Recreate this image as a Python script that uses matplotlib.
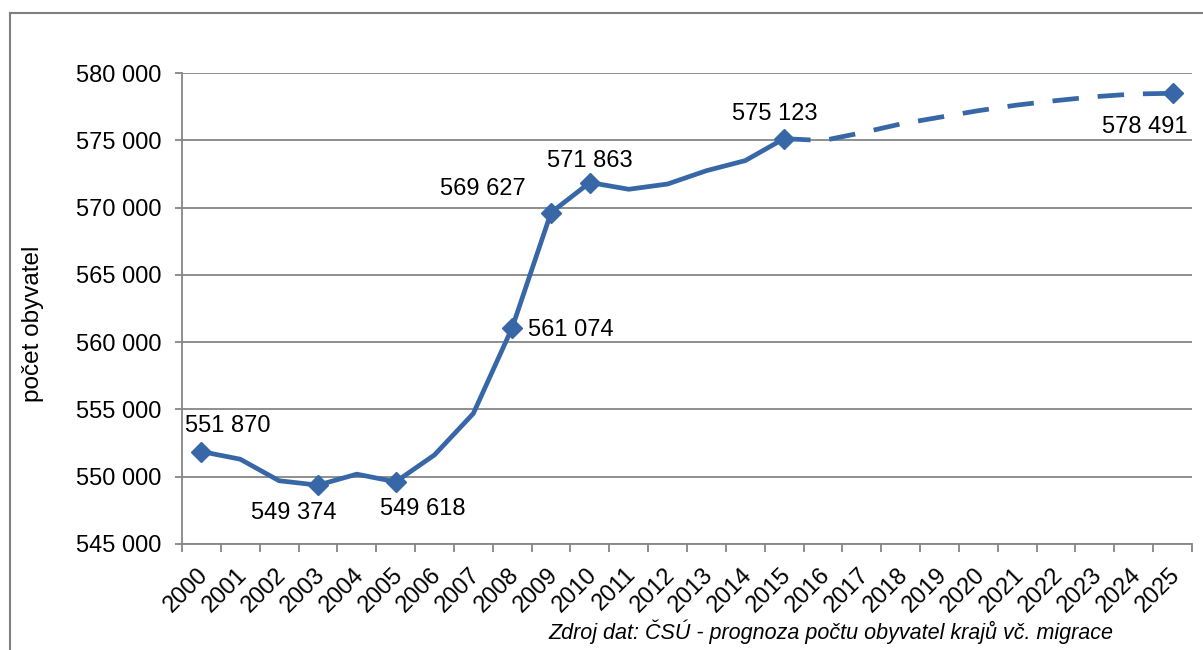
import matplotlib.pyplot as plt
from matplotlib.ticker import FuncFormatter, FixedLocator
from matplotlib.lines import Line2D
from matplotlib.transforms import ScaledTranslation

plt.rcParams['font.family'] = ['Liberation Sans', 'DejaVu Sans']

years = list(range(2000, 2026))
actual_years = list(range(2000, 2016))
actual = [551870, 551300, 549700, 549374, 550190, 549618, 551620, 554700,
          561074, 569627, 571863, 571360, 571750, 572740, 573490, 575123]
proj_years = list(range(2015, 2026))
proj = [575123, 574980, 575560, 576210, 576710, 577200, 577620, 577950,
        578240, 578440, 578491]
labeled_actual = [2000, 2003, 2005, 2008, 2009, 2010, 2015]
labeled_proj = [2025]

clr = "#3767a6"
grid_clr = "#868686"

def fmt(v, pos=None):
    return f"{v:,.0f}".replace(",", " ")

fig = plt.figure(figsize=[12.03, 6.5], dpi=100)
ax = fig.add_axes([182/1203, 1-544/650, 1010/1203, 471/650])

xa = [years.index(y) for y in actual_years]
xp = [years.index(y) for y in proj_years]
ax.plot(xa, actual, "-", color=clr, lw=3.4, solid_joinstyle="round", zorder=3)
ax.plot(xp, proj, "--", color=clr, lw=3.4, dashes=(5.6, 4.0), zorder=3)

mx = [years.index(y) for y in labeled_actual] + [years.index(y) for y in labeled_proj]
my = [actual[actual_years.index(y)] for y in labeled_actual] + \
     [proj[proj_years.index(y)] for y in labeled_proj]
ax.plot(mx, my, "D", color=clr, ms=10.5, zorder=4)

# label offsets in pixels (dx, dy, ha)
offs = {2000: (26, 26, "center"), 2003: (-24, -28, "center"),
        2005: (27, -27, "center"), 2008: (16, -2, "left"),
        2009: (-68, 24, "center"), 2010: (0, 22, "center"),
        2015: (-9, 25, "center"), 2025: (-28, -34, "center")}
for x, y, yr in zip(mx, my, labeled_actual + labeled_proj):
    dx, dy, ha = offs[yr]
    ax.annotate(fmt(y), (x, y), xytext=(dx, dy), textcoords="offset pixels",
                ha=ha, va="center", fontsize=17, color="black")

ax.set_xlim(-0.5, len(years) - 0.5)
ax.set_ylim(545000, 580000)
ax.set_yticks(range(545000, 580001, 5000))
ax.yaxis.set_major_formatter(FuncFormatter(fmt))
ax.grid(True, axis="y", color=grid_clr, lw=1.3)
ax.set_axisbelow(True)

ax.set_xticks(range(len(years)))
ax.set_xticklabels([str(y) for y in years], rotation=45, ha="right",
                   va="top", rotation_mode="anchor")
ax.xaxis.set_minor_locator(FixedLocator([i - 0.5 for i in range(len(years) + 1)]))
ax.tick_params(axis="x", which="major", length=0, pad=14, labelsize=17)
ax.tick_params(axis="x", which="minor", length=6, width=1.3, color=grid_clr)
ax.tick_params(axis="y", length=5, width=1.3, color=grid_clr, pad=10, labelsize=17)
shift = ScaledTranslation(-4/100, 0, fig.dpi_scale_trans)
for lab in ax.get_xticklabels():
    lab.set_transform(lab.get_transform() + shift)

for s in ["top", "right"]:
    ax.spines[s].set_visible(False)
for s in ["left", "bottom"]:
    ax.spines[s].set_color(grid_clr)
    ax.spines[s].set_linewidth(1.3)

fig.text(33/1203, 1-324/650, "počet obyvatel", rotation=90, ha="center",
         va="center", fontsize=17.5)
fig.text(1113/1203, 1-639/650,
         "Zdroj dat: ČSÚ - prognoza počtu obyvatel krajů vč. migrace",
         ha="right", va="baseline", fontsize=15.5, style="italic")

# outer frame
fig.add_artist(Line2D([10/1203, 10/1203], [0, 1-13/650], color="#7f7f7f", lw=1.5,
                      transform=fig.transFigure))
fig.add_artist(Line2D([10/1203, 1], [1-13/650, 1-13/650], color="#7f7f7f", lw=1.5,
                      transform=fig.transFigure))

fig.savefig("out.png", dpi=100)
